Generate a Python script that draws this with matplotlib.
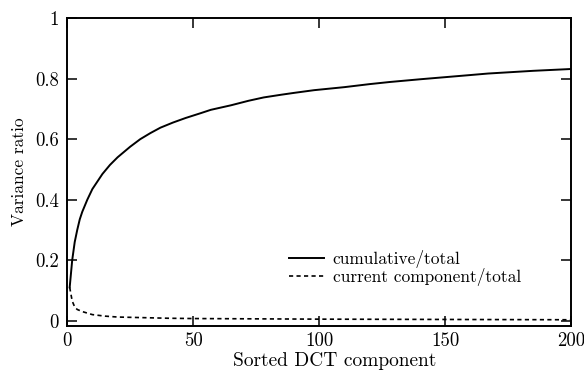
import matplotlib
matplotlib.use("Agg")
import matplotlib.pyplot as plt

# cumulative variance ratio
cum_x = [1, 2, 3, 4, 5, 6, 8, 10, 12, 14, 17, 20, 25, 29, 33, 37, 42, 47, 53, 57,
         65, 72, 78, 85, 90, 98, 110, 120, 128, 140, 150, 160, 167, 175, 185, 200]
cum_y = [0.11, 0.20, 0.26, 0.30, 0.335, 0.36, 0.40, 0.435, 0.46, 0.485, 0.515, 0.54,
         0.575, 0.60, 0.62, 0.638, 0.655, 0.670, 0.686, 0.697, 0.712, 0.727, 0.738,
         0.747, 0.753, 0.762, 0.772, 0.782, 0.789, 0.798, 0.805, 0.812, 0.817, 0.821,
         0.826, 0.832]

# variance ratio of the current component
cur_x = [1, 2, 3, 4, 6, 8, 10, 15, 20, 30, 40, 50, 75, 100, 150, 200]
cur_y = [0.11, 0.065, 0.045, 0.037, 0.03, 0.025, 0.02, 0.015, 0.012, 0.010, 0.008,
         0.007, 0.006, 0.005, 0.004, 0.003]

x_ticks = [0, 50, 100, 150, 200]
y_ticks = [0, 0.2, 0.4, 0.6, 0.8, 1]
y_labels = ["0", "0.2", "0.4", "0.6", "0.8", "1"]

plt.rcParams["font.family"] = "serif"
plt.rcParams["font.serif"] = ["cmr10"]
plt.rcParams["axes.formatter.use_mathtext"] = True

fig = plt.figure(figsize=(5.84, 3.71), dpi=100)
ax = fig.add_axes([0.115, 0.121, 0.863, 0.830])

ax.plot(cum_x, cum_y, "k-", linewidth=1.4, label="cumulative/total")
ax.plot(cur_x, cur_y, color="k", linestyle=(0, (2.5, 2)), linewidth=1.2,
        label="current component/total")

ax.set_xlim(0, 200)
ax.set_ylim(-0.018, 1)
ax.set_xticks(x_ticks)
ax.set_xticklabels([str(t) for t in x_ticks])
ax.set_yticks(y_ticks)
ax.set_yticklabels(y_labels)
ax.tick_params(direction="in", top=True, right=True, length=7, width=1.1,
               labelsize=13.5)
ax.tick_params(axis="x", pad=4)
ax.tick_params(axis="y", pad=6)
for s in ax.spines.values():
    s.set_linewidth(1.4)

ax.set_xlabel("Sorted DCT component", fontsize=14)
ax.xaxis.set_label_coords(0.53, -0.083)
ax.set_ylabel("Variance ratio", fontsize=12.5, labelpad=6)

ax.legend(loc="lower right", bbox_to_anchor=(0.90, 0.13), frameon=False,
          fontsize=12.5, handlelength=2.0, handletextpad=0.5, labelspacing=0.0,
          borderpad=0, borderaxespad=0)

fig.savefig("out.png", dpi=100)
